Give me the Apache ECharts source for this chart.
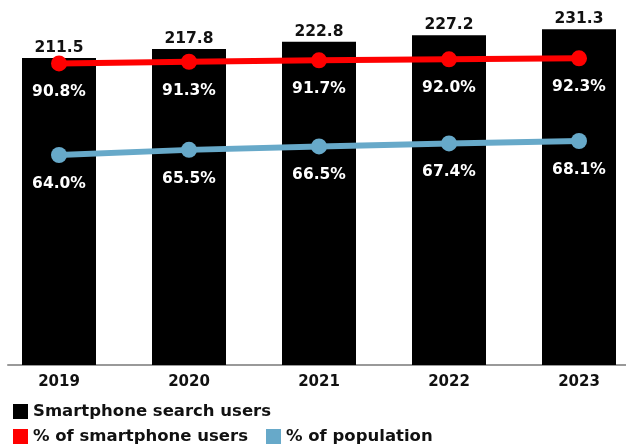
<!DOCTYPE html>
<html>
<head>
<meta charset="utf-8">
<script src="https://cdn.jsdelivr.net/npm/echarts@6/dist/echarts.min.js"></script>
<style>
html,body{margin:0;padding:0;background:#fff;}
#chart{width:626px;height:444px;}
</style>
</head>
<body>
<div id="chart"></div>
<script>
const years = ['2019', '2020', '2021', '2022', '2023'];
const searchUsers = [211.5, 217.8, 222.8, 227.2, 231.3];
const pctSmartphoneUsers = [90.8, 91.3, 91.7, 92.0, 92.3];
const pctPopulation = [64.0, 65.5, 66.5, 67.4, 68.1];

const FONT = 'DejaVu Sans';
const chart = echarts.init(document.getElementById('chart'), null, {renderer: 'canvas'});
chart.setOption({
  animation: false,
  backgroundColor: '#fff',
  textStyle: {fontFamily: FONT},
  grid: [
    {left: 59, right: 47, top: 20, bottom: 79},
    {left: 8, right: 0, top: 20, bottom: 79}
  ],
  legend: [
    {
      data: [{name: 'Smartphone search users', icon: 'rect'}],
      left: 8, top: 398, itemWidth: 15, itemHeight: 15,
      textStyle: {fontFamily: FONT, fontWeight: 'bold', fontSize: 16.5, color: '#111'}
    },
    {
      data: [{name: '% of smartphone users', icon: 'rect'}, {name: '% of population', icon: 'rect'}],
      left: 8, top: 423, itemWidth: 15, itemHeight: 15, itemGap: 18,
      textStyle: {fontFamily: FONT, fontWeight: 'bold', fontSize: 16.5, color: '#111'}
    }
  ],
  xAxis: [
    {
      type: 'category', data: years, gridIndex: 0, boundaryGap: false,
      axisLine: {show: false}, axisTick: {show: false},
      axisLabel: {fontFamily: FONT, fontWeight: 'bold', fontSize: 15, color: '#111', margin: 10}
    },
    {
      type: 'value', gridIndex: 1, min: 0, max: 1,
      axisLine: {show: true, onZero: false, lineStyle: {color: '#999', width: 2}},
      axisTick: {show: false}, axisLabel: {show: false}, splitLine: {show: false}
    }
  ],
  yAxis: [
    {type: 'value', gridIndex: 0, min: 0, max: 237.7, show: false, splitLine: {show: false}},
    {type: 'value', gridIndex: 0, min: 2.54, max: 103.51, show: false, splitLine: {show: false}},
    {type: 'value', gridIndex: 1, min: 0, max: 1, show: false, splitLine: {show: false}}
  ],
  series: [
    {
      name: 'Smartphone search users', type: 'bar', data: searchUsers,
      xAxisIndex: 0, yAxisIndex: 0, barWidth: 74,
      itemStyle: {color: '#000'},
      label: {show: true, position: 'top', distance: 2, fontFamily: FONT, fontWeight: 'bold', fontSize: 15.5, color: '#111',
        formatter: p => p.value.toFixed(1)}
    },
    {
      name: '% of smartphone users', type: 'line', data: pctSmartphoneUsers,
      xAxisIndex: 0, yAxisIndex: 1, symbol: 'circle', symbolSize: 16,
      lineStyle: {color: '#ff0000', width: 6}, itemStyle: {color: '#ff0000'},
      label: {show: true, position: 'bottom', distance: 13, fontFamily: FONT, fontWeight: 'bold', fontSize: 15.5, color: '#fff',
        formatter: p => p.value.toFixed(1) + '%'}
    },
    {
      name: '% of population', type: 'line', data: pctPopulation,
      xAxisIndex: 0, yAxisIndex: 1, symbol: 'circle', symbolSize: 16,
      lineStyle: {color: '#67a9c9', width: 6}, itemStyle: {color: '#67a9c9'},
      label: {show: true, position: 'bottom', distance: 13, fontFamily: FONT, fontWeight: 'bold', fontSize: 15.5, color: '#fff',
        formatter: p => p.value.toFixed(1) + '%'}
    }
  ]
});
</script>
</body>
</html>
